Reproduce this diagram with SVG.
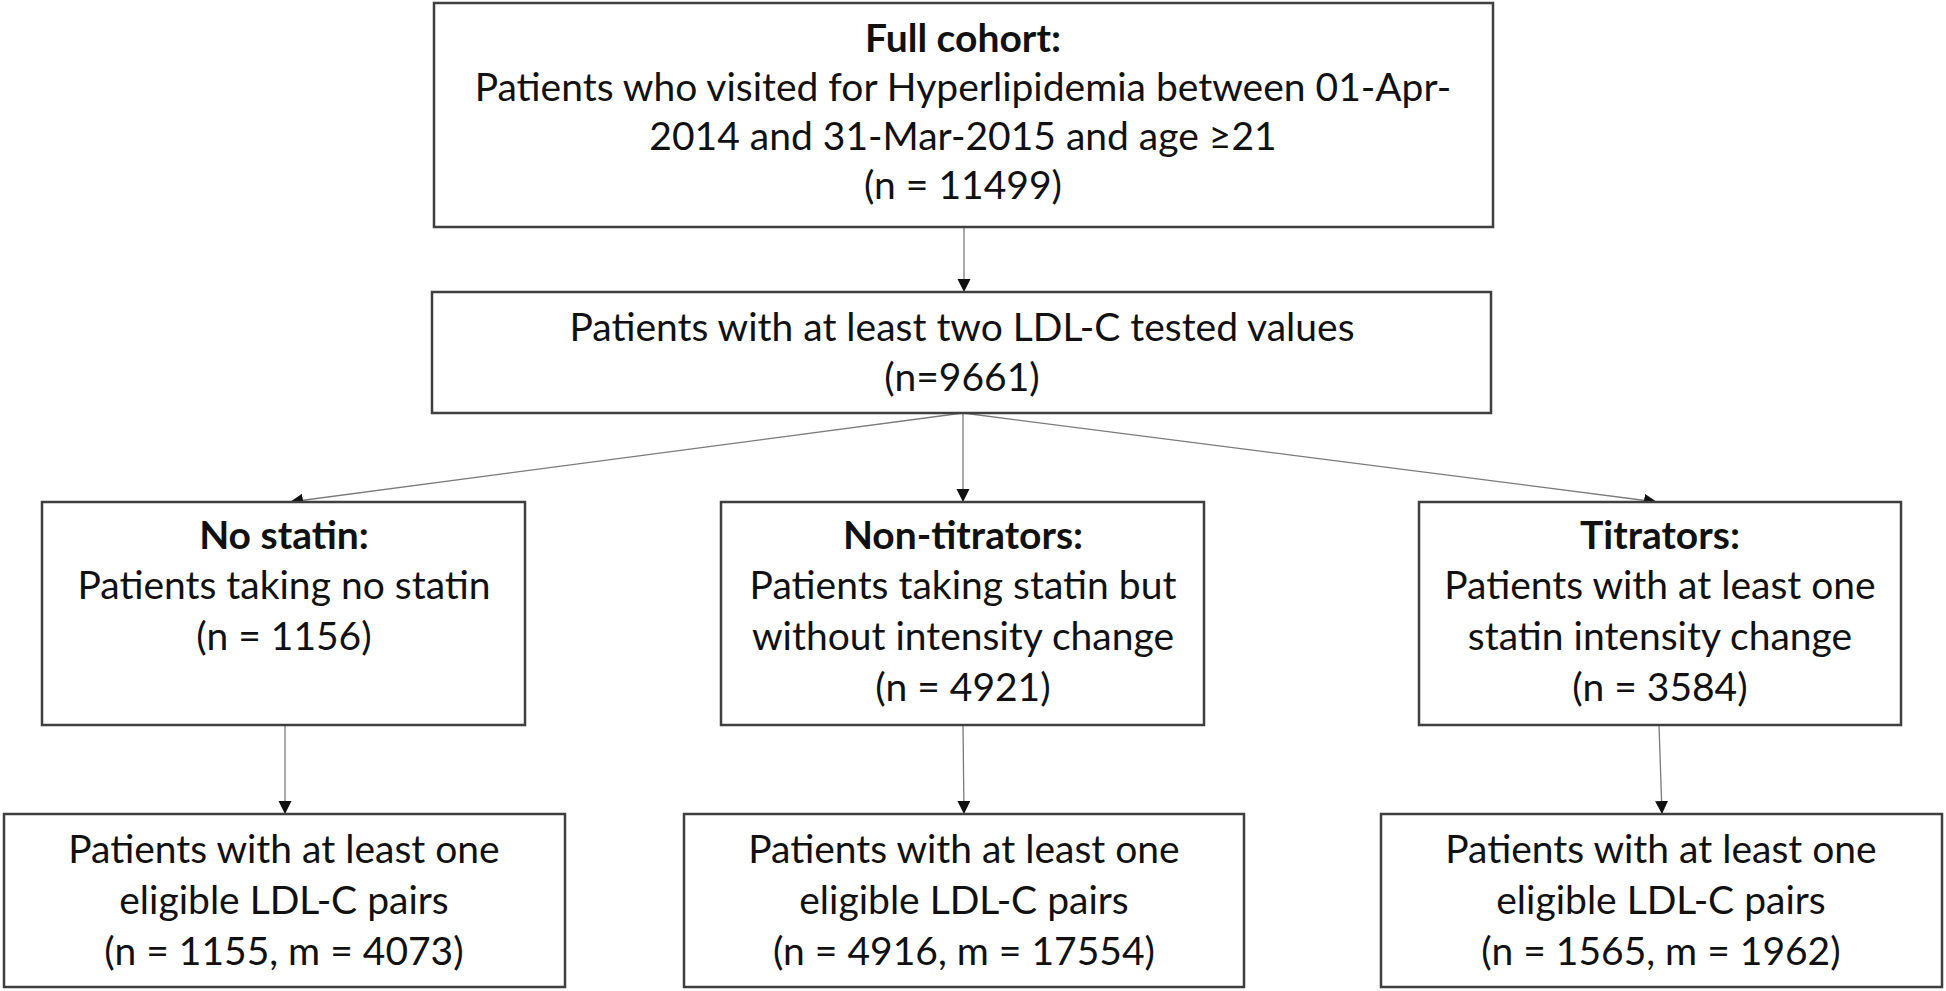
<svg xmlns="http://www.w3.org/2000/svg" width="1946" height="991" viewBox="0 0 1946 991">
<style>
.box{fill:#ffffff;stroke:#3f3f3f;stroke-width:2.5}
.t{font-family:Lato,"Open Sans",sans-serif;font-size:39px;fill:#111111;text-anchor:middle}
.b{font-weight:bold}
.c{stroke:#7a7a7a;stroke-width:1.3;fill:none;marker-end:url(#ah)}
</style>
<defs>
<marker id="ah" markerUnits="userSpaceOnUse" markerWidth="14" markerHeight="14" refX="13" refY="6.5" orient="auto">
<path d="M0,0 L13,6.5 L0,13 Z" fill="#111111"/>
</marker>
</defs>
<rect width="1946" height="991" fill="#ffffff"/>
<g id="connectors">
<line class="c" x1="964" y1="227" x2="964" y2="292"/>
<line class="c" x1="963" y1="413" x2="290" y2="502"/>
<line class="c" x1="963" y1="413" x2="963" y2="502"/>
<line class="c" x1="963" y1="413" x2="1657" y2="502"/>
<line class="c" x1="285" y1="725" x2="285" y2="814"/>
<line class="c" x1="963" y1="725" x2="964" y2="814"/>
<line class="c" x1="1659" y1="725" x2="1662" y2="814"/>
</g>
<g id="full-cohort">
<rect class="box" x="434" y="3" width="1059" height="224"/>
<text class="t b" x="963" y="52">Full cohort:</text>
<text class="t" x="963" y="101">Patients who visited for Hyperlipidemia between 01-Apr-</text>
<text class="t" x="963" y="150">2014 and 31-Mar-2015 and age ≥21</text>
<text class="t" x="963" y="199">(n = 11499)</text>
</g>
<g id="ldl-two">
<rect class="box" x="432" y="292" width="1059" height="121"/>
<text class="t" x="962" y="341">Patients with at least two LDL-C tested values</text>
<text class="t" x="962" y="391">(n=9661)</text>
</g>
<g id="no-statin">
<rect class="box" x="42" y="502" width="483" height="223"/>
<text class="t b" x="284" y="549">No statin:</text>
<text class="t" x="284" y="599">Patients taking no statin</text>
<text class="t" x="284" y="650">(n = 1156)</text>
</g>
<g id="non-titrators">
<rect class="box" x="721" y="502" width="483" height="223"/>
<text class="t b" x="963" y="549">Non-titrators:</text>
<text class="t" x="963" y="599">Patients taking statin but</text>
<text class="t" x="963" y="650">without intensity change</text>
<text class="t" x="963" y="701">(n = 4921)</text>
</g>
<g id="titrators">
<rect class="box" x="1419" y="502" width="482" height="223"/>
<text class="t b" x="1660" y="549">Titrators:</text>
<text class="t" x="1660" y="599">Patients with at least one</text>
<text class="t" x="1660" y="650">statin intensity change</text>
<text class="t" x="1660" y="701">(n = 3584)</text>
</g>
<g id="pairs-no-statin">
<rect class="box" x="4" y="814" width="561" height="173"/>
<text class="t" x="284" y="863">Patients with at least one</text>
<text class="t" x="284" y="914">eligible LDL-C pairs</text>
<text class="t" x="284" y="965">(n = 1155, m = 4073)</text>
</g>
<g id="pairs-non-titrators">
<rect class="box" x="684" y="814" width="560" height="173"/>
<text class="t" x="964" y="863">Patients with at least one</text>
<text class="t" x="964" y="914">eligible LDL-C pairs</text>
<text class="t" x="964" y="965">(n = 4916, m = 17554)</text>
</g>
<g id="pairs-titrators">
<rect class="box" x="1381" y="814" width="561" height="173"/>
<text class="t" x="1661" y="863">Patients with at least one</text>
<text class="t" x="1661" y="914">eligible LDL-C pairs</text>
<text class="t" x="1661" y="965">(n = 1565, m = 1962)</text>
</g>
</svg>
